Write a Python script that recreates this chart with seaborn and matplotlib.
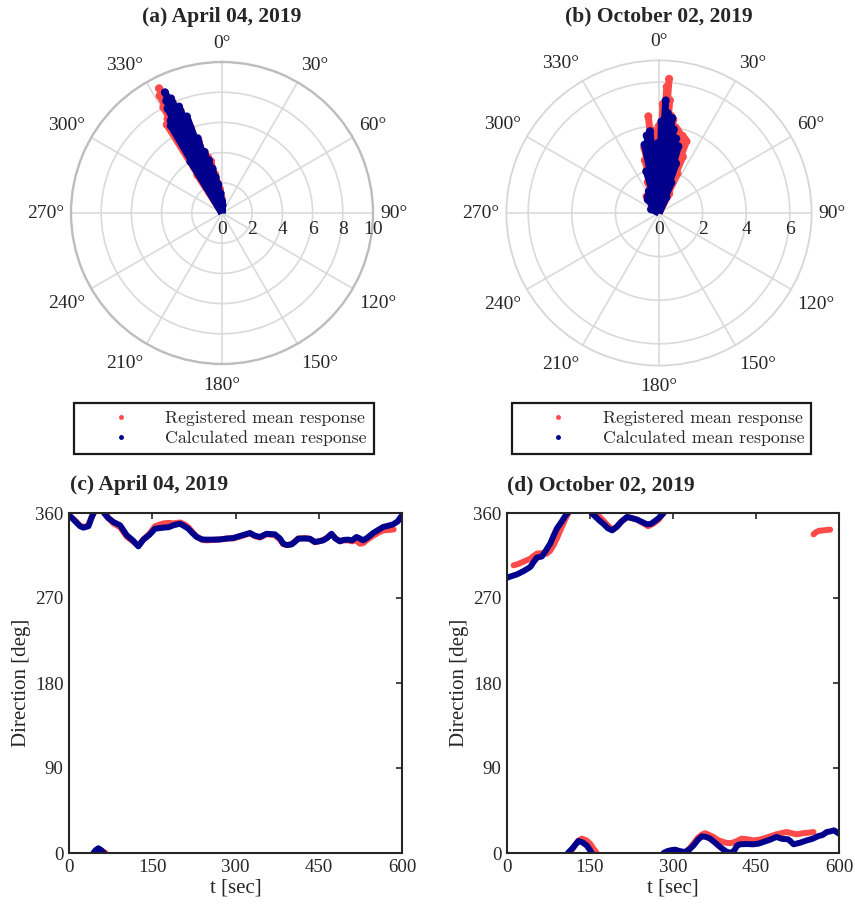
import numpy as np
import pandas as pd
import matplotlib
matplotlib.use("Agg")
import matplotlib.pyplot as plt
import matplotlib.transforms as mtransforms
from matplotlib.lines import Line2D
import seaborn as sns

# ---------------- data ----------------
# polar plume tips (direction in degrees, magnitude)
pa_reg_theta = [327.0, 328.0, 329.0, 330.0, 331.0, 332.0, 333.2, 334.5, 336.0, 338.0, 340.0, 342.0,
                344.0, 346.0, 348.0, 350.0, 352.0, 355.0, 358.0, 2.0]
pa_reg_r = [3.0, 6.9, 6.5, 7.2, 8.0, 8.8, 9.25, 8.6, 8.0, 7.3, 6.0, 5.0,
            4.2, 3.8, 3.5, 2.6, 2.0, 1.6, 1.0, 0.6]
pa_cal_theta = [328.5, 329.6, 331.0, 332.5, 333.6, 334.7, 336.0, 338.0, 340.0, 342.0, 344.0, 346.0,
                348.0, 350.0, 352.5, 356.0, 0.0, 4.0]
pa_cal_r = [4.0, 6.7, 7.0, 7.8, 8.3, 8.84, 8.3, 7.6, 6.8, 5.2, 4.2, 3.6,
            3.0, 2.4, 1.9, 1.3, 0.8, 0.5]

pb_reg_theta = [320.0, 323.5, 330.0, 340.0, 345.0, 347.3, 350.0, 352.0, 353.7, 355.5, 357.0, 0.0,
                2.0, 3.5, 4.3, 5.5, 7.0, 8.7, 11.0, 12.5, 14.0, 17.0, 19.0, 21.0, 23.0, 25.0, 28.0]
pb_reg_r = [0.5, 0.95, 0.9, 1.5, 2.5, 3.06, 3.2, 3.6, 4.46, 3.8, 3.6, 4.0,
            5.0, 5.8, 6.17, 5.2, 4.5, 4.33, 4.0, 3.9, 3.8, 3.7, 3.6, 3.52, 2.8, 2.0, 1.0]
pb_cal_theta = [295.0, 320.0, 325.0, 335.0, 343.0, 348.0, 351.0, 353.7, 356.0, 359.0, 1.5, 3.4,
                5.0, 6.5, 8.0, 10.0, 13.0, 16.2, 19.0, 22.0, 25.0]
pb_cal_r = [0.4, 0.8, 0.9, 1.1, 2.0, 3.2, 3.6, 3.77, 3.0, 3.2, 4.2, 5.17,
            4.6, 4.3, 4.4, 3.9, 3.5, 3.18, 2.4, 1.5, 0.8]

nan = np.nan
# time series (NaN separates wrap-around segments)
c_reg_t = [0, 10, 20, 26, 35, 40, 45, nan, 45, 50, 55, 60, 66, nan,
           66, 72, 80, 92, 104, 115, 125, 134, 145, 155, 170, 180, 188, 200, 208, 215, 222, 230, 240,
           248, 260, 272, 285, 296, 310, 326, 335, 344, 356, 371, 380, 386, 393, 401, 406, 413, 425,
           434, 443, 450, 458, 465, 473, 480, 488, 495, 503, 510, 518, 524, 530, 538, 548, 557, 566,
           575, 585]
c_reg_d = [358, 352.5, 346.5, 345, 347, 355, 360, nan, 0, 2, 3, 2, 0, nan,
           360, 354, 349, 345, 335, 330, 325.5, 332, 338, 346, 349, 349.5, 349, 350, 348, 345, 340, 335,
           331.5, 331, 331.5, 332, 333, 333, 335.5, 338.5, 335.5, 334, 337.5, 336.5, 332, 327, 326, 327,
           329.5, 333, 333.5, 332.5, 329, 330, 331.5, 334, 337.5, 333, 330.5, 331, 331, 330, 331, 327.5,
           328, 332, 336, 339, 341.5, 342, 342.5]
c_cal_t = [0, 10, 20, 26, 35, 40, 44, nan, 44, 48, 53, 58, 63, nan,
           63, 70, 80, 92, 104, 115, 125, 134, 145, 155, 170, 180, 188, 200, 208, 215, 222, 230, 240,
           248, 260, 272, 285, 296, 310, 326, 335, 344, 356, 371, 380, 386, 393, 401, 406, 413, 425,
           434, 443, 450, 458, 465, 473, 480, 488, 495, 503, 510, 518, 524, 530, 538, 548, 557, 566,
           575, 584, 592, 600]
c_cal_d = [357.5, 352, 346, 344.5, 346, 354, 360, nan, 0, 3, 5, 3, 0, nan,
           360, 355, 350.5, 347, 336.5, 331, 324.7, 331.8, 337, 343.4, 344.5, 345, 347, 348.7, 346,
           343.4, 339, 334.6, 332, 331.8, 331.8, 332, 333, 333.5, 336, 338.8, 336, 334.6, 338, 337.4,
           333, 327.5, 326, 326.8, 329, 332.8, 333, 332.8, 329.3, 330, 331, 333.5, 338, 333, 330, 331.5,
           331.8, 331, 334.6, 333, 331, 334, 338.8, 342, 345.2, 346.5, 348, 351, 357.5]

d_reg_t = [12, 20, 30, 42, 48, 54, 63, 72, 78, 84, 90, 99, 105, 111, nan,
           114, 122, 129, 135, 143, 150, 157, 162, nan,
           159, 167, 174, 182, 190, 198, 207, 217, 226, 235, 244, 255, 265, 274, 283, nan,
           286, 295, 304, 313, 322, 330, 337, 345, 352, 358, 366, 373, 382, 391, 399, 406, 415, 424,
           435, 445, 455, 463, 475, 487, 496, 505, 514, 524, 535, 545, 554, nan,
           554, 558, 563, 570, 577, 584]
d_reg_d = [304.6, 306, 308.5, 311.6, 314.5, 317, 317.5, 317, 320, 325.8, 333, 345.2, 353, 360, nan,
           0, 8, 13, 15.2, 13.5, 10, 4, 0, nan,
           360, 356, 352, 347, 342.4, 345, 351, 355.8, 354.5, 353, 350, 346, 349, 353, 360, nan,
           0, 2, 2.8, 1.5, 0.5, 5, 10, 16, 19.5, 21, 19, 17, 13.5, 11.6, 10.5, 10.6, 12.5, 15.2,
           14.5, 13.4, 14, 15.2, 17.5, 19.8, 21, 22.2, 21, 19.8, 21, 21.5, 22.2, nan,
           337.4, 339.5, 341, 341.5, 342, 342.4]
d_cal_t = [0, 10, 18, 30, 42, 48, 54, 63, 70, 78, 85, 90, 100, 108, 110, nan,
           110, 120, 129, 137, 144, 150, 153, nan,
           153, 160, 167, 174, 182, 190, 198, 207, 217, 226, 235, 244, 253, 260, 265, 273, 283, nan,
           283, 290, 297, 304, 312, 322, 330, 337, 345, 352, 360, 367, 376, 385, 395, 403, 410, 416,
           421, 433, 445, 455, 463, 475, 487, 497, 508, 513, 518, 530, 542, 552, 563, 570, 578, 585,
           591, 600]
d_cal_d = [291.5, 293.5, 295, 298.5, 302.8, 308, 312.7, 314, 320, 327.5, 337, 343.4, 352, 359.3, 360, nan,
           0, 6, 12.7, 11, 8, 3, 0, nan,
           360, 356, 352, 348.7, 344, 341.6, 345.2, 351, 355.8, 354.5, 353, 350.5, 348, 348.5, 350.5,
           354, 360, nan,
           0, 2, 3, 3.5, 2, 1, 4, 8, 14, 17.6, 17, 15.2, 11, 6.4, 2, 0, 2, 8,
           9.2, 9.5, 9.2, 10, 11.6, 14, 17, 15, 14.5, 12, 9.2, 11, 13.4, 15, 18, 19, 22.2, 23,
           24, 20.5]

titles = ["(a) April 04, 2019", "(b) October 02, 2019", "(c) April 04, 2019", "(d) October 02, 2019"]
legend_labels = ["Registered mean response", "Calculated mean response"]
theta_ticks = list(range(0, 360, 30))
xticks = [0, 150, 300, 450, 600]
yticks = [0, 90, 180, 270, 360]

# ---------------- style ----------------
sns.set_style("white")
plt.rcParams["font.family"] = ["Liberation Serif", "DejaVu Serif"]
RED = "#ff4a4a"
BLUE = "#00008c"
TXT = "#262626"
W, H = 855, 909
fig = plt.figure(figsize=(W / 100, H / 100), dpi=100)


def fbox(x0, y0, x1, y1):
    return [x0 / W, 1 - y1 / H, (x1 - x0) / W, (y1 - y0) / H]


def polar_panel(rect, rmax, rticks, reg, cal, spine_col, spine_lw):
    ax = fig.add_axes(rect, projection="polar")
    ax.set_theta_zero_location("N")
    ax.set_theta_direction(-1)
    ax.set_ylim(0, rmax)
    ax.set_xticks(np.deg2rad(theta_ticks))
    ax.set_yticks(rticks)
    ax.set_xticklabels([])
    ax.set_yticklabels([])
    ax.grid(True, color="#dadada", lw=1.2)
    ax.set_axisbelow(True)
    ax.spines["polar"].set_color(spine_col)
    ax.spines["polar"].set_linewidth(spine_lw)
    for (th, r), col in zip([reg, cal], [RED, BLUE]):
        thr = np.deg2rad(th)
        z = 3 if col == RED else 4
        ax.vlines(thr, 0, r, colors=col, lw=5.0, zorder=z)
        sns.scatterplot(x=thr, y=r, ax=ax, color=col, s=34, edgecolor="none",
                        legend=False, zorder=z)
    ax.set_xlabel("")
    ax.set_ylabel("")
    for t in theta_ticks:
        s, c = np.sin(np.deg2rad(t)), np.cos(np.deg2rad(t))
        if abs(s) < 0.1:
            ha = "center"
        elif s > 0:
            ha = "left"
        else:
            ha = "right"
        if abs(c) < 0.1:
            dy = 0.0
        elif c > 0:
            dy = 6.5 + 12 * c
        else:
            dy = -9.0 + 12 * c
        dx = 7 * s
        tr = ax.transData + mtransforms.ScaledTranslation(dx / 100, dy / 100, fig.dpi_scale_trans)
        ax.text(np.deg2rad(t), rmax, f"{t}°", transform=tr, ha=ha, va="center",
                fontsize=14, color=TXT, clip_on=False)
    for r in rticks:
        tr = ax.transData + mtransforms.ScaledTranslation(0, -0.17, fig.dpi_scale_trans)
        ax.text(np.pi / 2, r, f"{r:g}", transform=tr, ha="center", va="center",
                fontsize=14, color=TXT, clip_on=False)
    return ax


axa = polar_panel(fbox(71, 62, 373, 364), 10, [0, 2, 4, 6, 8, 10],
                  (pa_reg_theta, pa_reg_r), (pa_cal_theta, pa_cal_r), "#bdbdbd", 1.7)
axb = polar_panel(fbox(506.4, 60.4, 811.6, 365.6), 7, [0, 2, 4, 6],
                  (pb_reg_theta, pb_reg_r), (pb_cal_theta, pb_cal_r), "#d6d6d6", 1.3)

fig.text(222 / W, 1 - 16.7 / H, titles[0], ha="center", va="center", fontsize=15.5, fontweight="bold")
fig.text(659 / W, 1 - 16.7 / H, titles[1], ha="center", va="center", fontsize=15.5, fontweight="bold")

handles = [Line2D([], [], ls="none", marker=".", ms=5, color=RED),
           Line2D([], [], ls="none", marker=".", ms=5, color=BLUE)]
for x0 in [74, 511.5]:
    leg = fig.legend(handles, legend_labels, loc="upper left",
                     bbox_to_anchor=(x0 / W, 1 - 403 / H), bbox_transform=fig.transFigure,
                     borderaxespad=0, handlelength=4.4, handletextpad=0.3, labelspacing=0.22,
                     borderpad=0.42, fancybox=False, framealpha=1,
                     prop={"family": "cmr10", "size": 12.8})
    leg.get_frame().set_edgecolor("#1a1a1a")
    leg.get_frame().set_linewidth(1.6)


def series_df(t, d):
    t = np.asarray(t, float)
    d = np.asarray(d, float)
    seg = np.cumsum(np.isnan(t))
    df = pd.DataFrame({"t": t, "d": d, "seg": seg}).dropna()
    return df


def line_panel(rect, reg, cal, title, left):
    ax = fig.add_axes(rect)
    for (t, d), col in zip([reg, cal], [RED, BLUE]):
        df = series_df(t, d)
        sns.lineplot(data=df, x="t", y="d", units="seg", estimator=None, sort=False,
                     color=col, lw=4.3, ax=ax, solid_capstyle="round")
    ax.set_xlim(0, 600)
    ax.set_ylim(0, 360)
    ax.set_xticks(xticks)
    ax.set_yticks(yticks)
    ax.tick_params(direction="in", length=4, width=1.2, top=True, right=True,
                   labelsize=13.6, colors=TXT, pad=4)
    for sp in ax.spines.values():
        sp.set_color("#262626")
        sp.set_linewidth(1.5)
    ax.set_xlabel("t [sec]", fontsize=15, color=TXT, labelpad=2)
    ax.set_ylabel("Direction [deg]", fontsize=15, color=TXT, labelpad=3)
    fig.text(left / W, 1 - 485 / H, title, ha="left", va="center", fontsize=15.5, fontweight="bold")
    return ax


line_panel(fbox(69, 513, 402, 853), (c_reg_t, c_reg_d), (c_cal_t, c_cal_d), titles[2], 70)
line_panel(fbox(507, 513, 839, 853), (d_reg_t, d_reg_d), (d_cal_t, d_cal_d), titles[3], 507)

fig.savefig("out.png", dpi=100)
